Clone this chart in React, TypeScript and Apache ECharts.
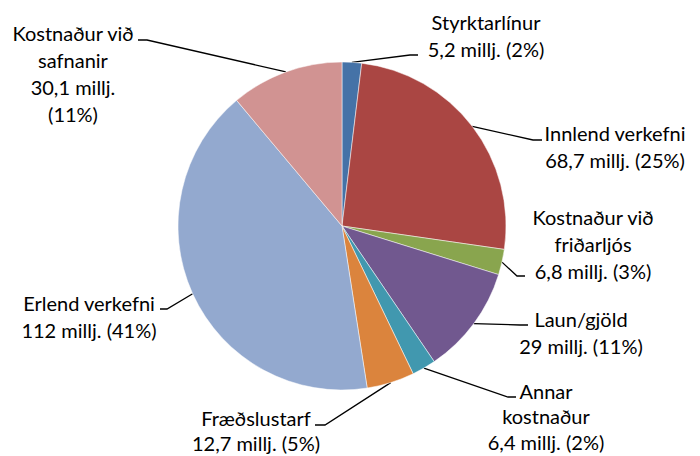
import React, { useEffect, useRef } from "react";
import * as echarts from "echarts";

const categories = [
  "Styrktarlínur",
  "Innlend verkefni",
  "Kostnaður við friðarljós",
  "Laun/gjöld",
  "Annar kostnaður",
  "Fræðslustarf",
  "Erlend verkefni",
  "Kostnaður við safnanir",
];
const values = [5.2, 68.7, 6.8, 29, 6.4, 12.7, 112, 30.1];
const valueTexts = ["5,2", "68,7", "6,8", "29", "6,4", "12,7", "112", "30,1"];
const percentTexts = ["2%", "25%", "3%", "11%", "2%", "5%", "41%", "11%"];
// how each label's name is wrapped, and whether the percentage goes on its own line
const nameLines = [
  "Styrktarlínur",
  "Innlend verkefni",
  "Kostnaður við\nfriðarljós",
  "Laun/gjöld",
  "Annar\nkostnaður",
  "Fræðslustarf",
  "Erlend verkefni",
  "Kostnaður við\nsafnanir",
];
const percentOnNewLine = [false, false, false, false, false, false, false, true];

const colors = ["#4572A7", "#AA4643", "#89A54E", "#71588F", "#4198AF", "#DB843D", "#93A9CF", "#D19392"];

// label placement (center x, top y, line height) and leader-line bends
const labelPos: [number, number, number][] = [
  [486, 8, 27],
  [615, 119, 27],
  [593, 203, 27],
  [581, 305, 27],
  [546, 378, 25.5],
  [256, 405, 25.5],
  [89, 289, 27],
  [73, 19, 27],
];
const leaderBends: [number, number][][] = [
  [[410, 55], [418, 55]],
  [[533, 140], [542, 140]],
  [[517, 276], [525, 276]],
  [[520, 325], [528, 325]],
  [[508, 397], [516, 397]],
  [[325, 425], [315, 425]],
  [[167, 309], [160, 309]],
  [[147, 40], [138, 40]],
];

export default function App() {
  const ref = useRef<HTMLDivElement>(null);
  useEffect(() => {
    if (!ref.current) return;
    const chart = echarts.init(ref.current, null, { renderer: "svg" });
    const data = categories.map((name, i) => ({
      name,
      value: values[i],
      itemStyle: { color: colors[i] },
      label: {
        lineHeight: labelPos[i][2],
        formatter:
          nameLines[i] +
          "\n" +
          valueTexts[i] +
          " millj." +
          (percentOnNewLine[i] ? "\n" : " ") +
          "(" +
          percentTexts[i] +
          ")",
      },
    }));
    chart.setOption({
      animation: false,
      backgroundColor: "#ffffff",
      series: [
        {
          type: "pie",
          center: [342, 226],
          radius: [0, 164],
          startAngle: 90,
          clockwise: true,
          avoidLabelOverlap: false,
          itemStyle: { borderColor: "#ffffff", borderWidth: 0.5 },
          label: {
            show: true,
            position: "outside",
            fontFamily: "Lato",
            fontSize: 20,
            lineHeight: 27,
            color: "#000000",
            align: "center",
          },
          labelLine: {
            show: true,
            lineStyle: { color: "#000000", width: 1.3 },
          },
          labelLayout: (params: any) => {
            const i = params.dataIndex;
            const anchor = params.labelLinePoints ? params.labelLinePoints[0] : leaderBends[i][0];
            return {
              x: labelPos[i][0],
              y: labelPos[i][1],
              align: "center",
              verticalAlign: "top",
              labelLinePoints: [anchor, leaderBends[i][0], leaderBends[i][1]],
            };
          },
          emphasis: { disabled: true },
          data,
        },
      ],
    });
    return () => chart.dispose();
  }, []);
  return (
    <div
      ref={ref}
      style={{ position: "fixed", left: 0, top: 0, width: 700, height: 456, background: "#fff" }}
    />
  );
}
